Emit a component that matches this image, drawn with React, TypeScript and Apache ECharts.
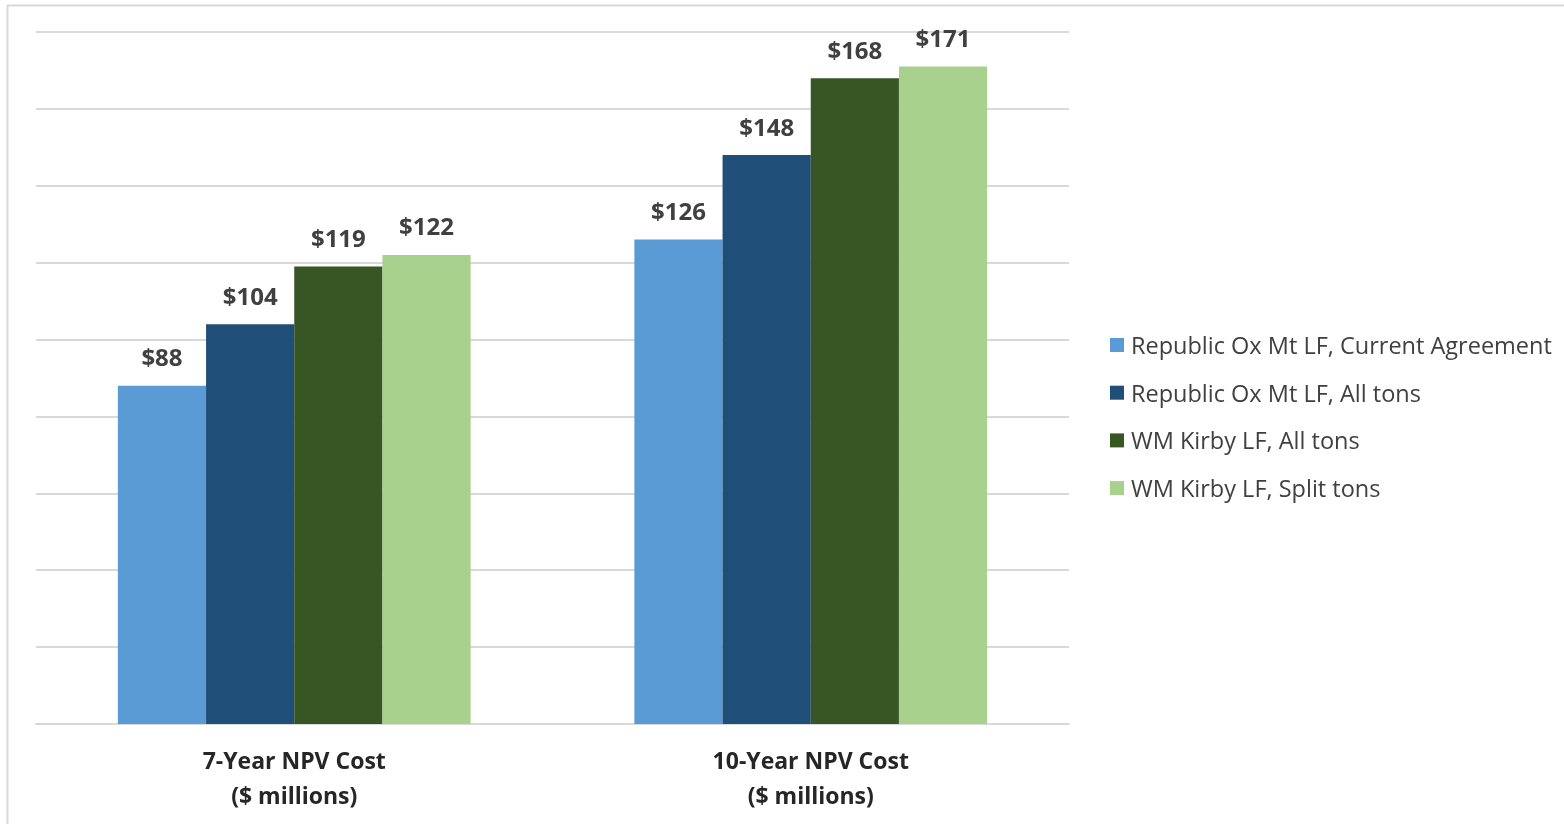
import React, { useEffect, useRef } from "react";
import * as echarts from "echarts";

const categories = ["7-Year NPV Cost\n($ millions)", "10-Year NPV Cost\n($ millions)"];
const seriesNames = [
  "Republic Ox Mt LF, Current Agreement",
  "Republic Ox Mt LF, All tons",
  "WM Kirby LF, All tons",
  "WM Kirby LF, Split tons",
];
const currentAgreement = [88, 126];
const republicAllTons = [104, 148];
const kirbyAllTons = [119, 168];
const kirbySplitTons = [122, 171];
const colors = ["#5B9BD5", "#1F4E79", "#375623", "#A9D18E"];

export default function App() {
  const ref = useRef<HTMLDivElement>(null);
  useEffect(() => {
    if (!ref.current) return;
    const chart = echarts.init(ref.current, null, { renderer: "svg" });
    const values = [currentAgreement, republicAllTons, kirbyAllTons, kirbySplitTons];
    chart.setOption({
      animation: false,
      textStyle: { fontFamily: "Open Sans" },
      graphic: [
        {
          type: "rect",
          shape: { x: 7.5, y: 5.5, width: 1600, height: 900 },
          style: { fill: "none", stroke: "#D9D9D9", lineWidth: 2 },
          silent: true,
        },
      ],
      grid: { left: 36, right: 495, top: 32, bottom: 100, containLabel: false },
      legend: {
        orient: "vertical",
        left: 1110,
        top: 333,
        padding: 0,
        itemWidth: 14,
        itemHeight: 14,
        itemGap: 23.7,
        icon: "rect",
        textStyle: {
          fontSize: 23.5,
          lineHeight: 24,
          color: "#404040",
          fontFamily: "Open Sans",
          padding: [0, 0, 0, 2],
        },
        data: seriesNames,
      },
      xAxis: {
        type: "category",
        data: categories,
        axisLine: { show: true, lineStyle: { color: "#D9D9D9", width: 2 } },
        axisTick: { show: false },
        axisLabel: {
          fontSize: 23,
          fontWeight: "bold",
          color: "#262626",
          lineHeight: 35,
          margin: 18,
          fontFamily: "Open Sans",
        },
      },
      yAxis: {
        type: "value",
        min: 0,
        max: 180,
        interval: 20,
        axisLabel: { show: false },
        axisLine: { show: false },
        axisTick: { show: false },
        splitLine: { lineStyle: { color: "#D9D9D9", width: 2 } },
      },
      series: values.map((v, i) => ({
        name: seriesNames[i],
        type: "bar",
        data: v,
        barGap: "0%",
        barCategoryGap: "31.7%",
        itemStyle: { color: colors[i] },
        label: {
          show: true,
          position: "top",
          distance: 17,
          formatter: (p: any) => "$" + p.value,
          fontSize: 24,
          fontWeight: "bold",
          color: "#404040",
          fontFamily: "Open Sans",
        },
      })),
    });
    return () => chart.dispose();
  }, []);
  return <div ref={ref} style={{ position: "fixed", left: 0, top: 0, width: 1564, height: 824 }} />;
}
